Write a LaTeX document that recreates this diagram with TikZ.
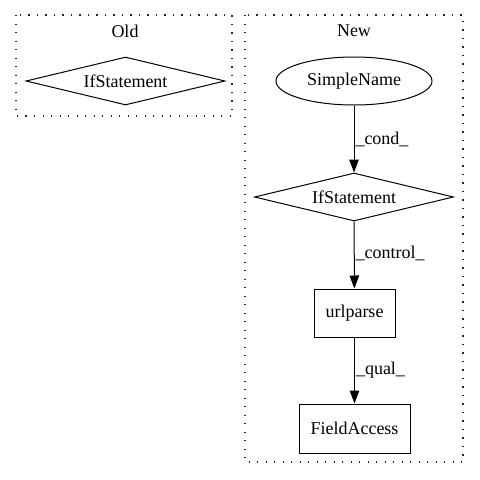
\documentclass[tikz,border=0pt]{standalone}
\usepackage{fontspec}
\setmainfont{Liberation Serif}
\usetikzlibrary{shapes.geometric,arrows.meta}
\begin{document}
\begin{tikzpicture}[x=1pt,y=-1pt,
  every node/.style={font=\fontsize{18}{20}\selectfont, inner sep=0pt},
  cluster/.style={draw=black!85, dash pattern=on 1.3pt off 7.2pt, line width=1.3pt},
  diam/.style={draw, diamond, aspect=4.15, minimum width=199pt, minimum height=48pt, line width=1pt},
  ell/.style={draw, ellipse, minimum width=156pt, minimum height=48pt, line width=1pt},
  box/.style={draw, rectangle, minimum height=48pt, line width=1pt},
  edge/.style={-{Triangle[length=13pt,width=9.5pt]}, line width=1pt},
  elabel/.style={anchor=west, inner sep=0pt}
]
\useasboundingbox (0,0) rectangle (480,480);
% clusters
\draw[cluster] (16,15) rectangle (232,116);
\node (oldlab) at (125,31) {Old};
\draw[cluster] (245,15) rectangle (463,462);
\node (newlab) at (354,31) {New};
% old
\node[diam] (oldif) at (125.5,81) {IfStatement};
% new
\node[ell] (sn) at (354,81) {SimpleName};
\node[diam] (newif) at (354,197) {IfStatement};
\node[box, minimum width=81pt] (url) at (354.5,313) {urlparse};
\node[box, minimum width=111pt, minimum height=49pt] (fa) at (354.5,428.5) {FieldAccess};
\draw[edge] (sn) -- (newif) node[pos=0.5, elabel, xshift=1pt] {\_cond\_};
\draw[edge] (newif) -- (url) node[pos=0.48, elabel, xshift=1pt] {\_control\_};
\draw[edge] (url) -- (fa) node[pos=0.5, elabel, xshift=1pt] {\_qual\_};
\end{tikzpicture}
\end{document}
